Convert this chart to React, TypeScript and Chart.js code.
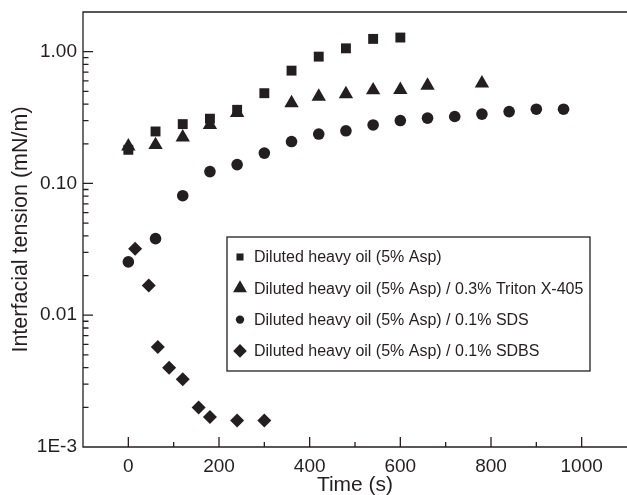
import React, { useEffect, useRef } from 'react';
import { Chart, registerables } from 'chart.js';

Chart.register(...registerables);

const INK = '#231f20';
const FONT = '"Liberation Sans", Arial, Helvetica, sans-serif';

// Series labels
const seriesLabels = [
  'Diluted heavy oil (5% Asp)',
  'Diluted heavy oil (5% Asp) / 0.3% Triton X-405',
  'Diluted heavy oil (5% Asp) / 0.1% SDS',
  'Diluted heavy oil (5% Asp) / 0.1% SDBS',
];

// Square series: Diluted heavy oil (5% Asp)
const sqTime = [0, 60, 120, 180, 240, 300, 360, 420, 480, 540, 600];
const sqIFT = [0.18, 0.248, 0.282, 0.31, 0.362, 0.484, 0.718, 0.917, 1.06, 1.25, 1.28];

// Triangle series: + 0.3% Triton X-405
const triTime = [0, 60, 120, 180, 240, 360, 420, 480, 540, 600, 660, 780];
const triIFT = [0.191, 0.196, 0.224, 0.278, 0.343, 0.407, 0.457, 0.476, 0.51, 0.513, 0.553, 0.576];

// Circle series: + 0.1% SDS
const cirTime = [0, 60, 120, 180, 240, 300, 360, 420, 480, 540, 600, 660, 720, 780, 840, 900, 960];
const cirIFT = [0.0254, 0.0381, 0.0807, 0.123, 0.139, 0.17, 0.208, 0.237, 0.251, 0.278, 0.3, 0.313, 0.322, 0.336, 0.351, 0.366, 0.366];

// Diamond series: + 0.1% SDBS
const diaTime = [15, 45, 65, 90, 120, 155, 180, 240, 300];
const diaIFT = [0.0319, 0.0168, 0.00573, 0.004, 0.00326, 0.00199, 0.00169, 0.00159, 0.00159];

// Axis ticks
const xMajorTicks = [0, 200, 400, 600, 800, 1000];
const xMinorTicks = [100, 300, 500, 700, 900];
const yDecades = [0.001, 0.01, 0.1, 1];
const yDecadeLabels = ['1E-3', '0.01', '0.10', '1.00'];
const yMultipliers = [1, 2, 3, 4, 5, 6, 7, 8, 9];

const X_MIN = -100;
const X_MAX = 1100;
const Y_MIN = 0.001;
const Y_MAX = 2;

const pointStyles = ['rect', 'triangle', 'circle', 'rectRot'];
const pointRadii = [7, 8.3, 5.8, 7];
const legendRadii = [5, 8, 4.2, 6.8];

function drawMarker(ctx: CanvasRenderingContext2D, style: string, x: number, y: number, r: number) {
  ctx.beginPath();
  if (style === 'rect') {
    const s = Math.SQRT1_2 * r;
    ctx.rect(x - s, y - s, 2 * s, 2 * s);
  } else if (style === 'triangle') {
    ctx.moveTo(x, y - r);
    ctx.lineTo(x + r * Math.sin((2 * Math.PI) / 3), y - r * Math.cos((2 * Math.PI) / 3));
    ctx.lineTo(x + r * Math.sin((4 * Math.PI) / 3), y - r * Math.cos((4 * Math.PI) / 3));
    ctx.closePath();
  } else if (style === 'circle') {
    ctx.arc(x, y, r, 0, Math.PI * 2);
  } else {
    ctx.moveTo(x, y - r);
    ctx.lineTo(x + r, y);
    ctx.lineTo(x, y + r);
    ctx.lineTo(x - r, y);
    ctx.closePath();
  }
  ctx.fill();
}

const decoPlugin = {
  id: 'deco',
  afterDraw(chart: any) {
    const { ctx, chartArea: ca, scales } = chart;
    const xs = scales.x;
    const ys = scales.y;
    ctx.save();
    ctx.strokeStyle = INK;
    ctx.lineWidth = 1.3;
    ctx.beginPath();
    ctx.moveTo(ca.right, ca.top);
    ctx.lineTo(ca.left, ca.top);
    ctx.lineTo(ca.left, ca.bottom);
    ctx.lineTo(ca.right, ca.bottom);
    xMajorTicks.forEach((v) => {
      const px = xs.getPixelForValue(v);
      ctx.moveTo(px, ca.bottom);
      ctx.lineTo(px, ca.bottom - 10);
    });
    xMinorTicks.forEach((v) => {
      const px = xs.getPixelForValue(v);
      ctx.moveTo(px, ca.bottom);
      ctx.lineTo(px, ca.bottom - 5);
    });
    yDecades.forEach((d) => {
      yMultipliers.forEach((m) => {
        const v = d * m;
        if (v < Y_MIN - 1e-12 || v > Y_MAX + 1e-12) return;
        const py = ys.getPixelForValue(v);
        ctx.moveTo(ca.left, py);
        ctx.lineTo(ca.left + (m === 1 ? 10 : 5.5), py);
      });
    });
    ctx.stroke();

    // Legend box
    const bx = ca.left + 144;
    const by = ca.top + 225;
    const bw = 363;
    const bh = 134;
    ctx.fillStyle = '#ffffff';
    ctx.fillRect(bx, by, bw, bh);
    ctx.lineWidth = 1.3;
    ctx.strokeRect(bx, by, bw, bh);
    ctx.fillStyle = INK;
    ctx.font = `16px ${FONT}`;
    ctx.textBaseline = 'middle';
    ctx.textAlign = 'left';
    chart.data.datasets.forEach((ds: any, i: number) => {
      const ry = by + 20 + i * 31.3;
      drawMarker(ctx, pointStyles[i], bx + 13, ry, legendRadii[i]);
      ctx.fillText(ds.label, bx + 27, ry + 1);
    });
    ctx.restore();
  },
};

function toPoints(xs: number[], ys: number[]) {
  return xs.map((x, i) => ({ x, y: ys[i] }));
}

export default function App() {
  const ref = useRef<HTMLCanvasElement | null>(null);

  useEffect(() => {
    if (!ref.current) return;
    const seriesData = [
      toPoints(sqTime, sqIFT),
      toPoints(triTime, triIFT),
      toPoints(cirTime, cirIFT),
      toPoints(diaTime, diaIFT),
    ];
    const chart = new Chart(ref.current, {
      type: 'scatter',
      data: {
        datasets: seriesData.map((d, i) => ({
          label: seriesLabels[i],
          data: d,
          pointStyle: pointStyles[i] as any,
          pointRadius: pointRadii[i],
          pointBackgroundColor: INK,
          pointBorderColor: INK,
          pointBorderWidth: 0,
          showLine: false,
        })),
      },
      options: {
        animation: false,
        responsive: false,
        devicePixelRatio: 1,
        layout: { autoPadding: false, padding: { left: 0, right: 0, top: 12, bottom: 0 } },
        plugins: {
          legend: { display: false },
          tooltip: { enabled: false },
        },
        scales: {
          x: {
            type: 'linear',
            min: X_MIN,
            max: X_MAX,
            grid: { display: false, drawTicks: false },
            border: { display: false },
            afterBuildTicks: (scale: any) => {
              scale.ticks = xMajorTicks.map((v) => ({ value: v }));
            },
            afterFit: (scale: any) => {
              scale.height = 48;
              scale.paddingLeft = 0;
              scale.paddingRight = 0;
              scale.paddingTop = 0;
              scale.paddingBottom = 0;
            },
            ticks: {
              autoSkip: false,
              maxRotation: 0,
              padding: 8,
              color: INK,
              font: { family: FONT, size: 19 },
              callback: (v: any) => String(v),
            },
            title: {
              display: true,
              text: 'Time (s)',
              color: INK,
              font: { family: FONT, size: 21 },
              padding: { top: 0, bottom: -3 },
            },
          },
          y: {
            type: 'logarithmic',
            min: Y_MIN,
            max: Y_MAX,
            grid: { display: false, drawTicks: false },
            border: { display: false },
            afterBuildTicks: (scale: any) => {
              scale.ticks = yDecades.map((v) => ({ value: v }));
            },
            afterFit: (scale: any) => {
              scale.width = 83;
              scale.paddingLeft = 0;
              scale.paddingRight = 0;
              scale.paddingTop = 0;
              scale.paddingBottom = 0;
            },
            ticks: {
              autoSkip: false,
              padding: 6,
              color: INK,
              font: { family: FONT, size: 19 },
              callback: (v: any) => {
                const idx = yDecades.findIndex((d) => Math.abs(d - Number(v)) < d * 1e-6);
                return idx >= 0 ? yDecadeLabels[idx] : '';
              },
            },
            title: {
              display: true,
              text: 'Interfacial tension (mN/m)',
              color: INK,
              font: { family: FONT, size: 21.5 },
              padding: { top: 8, bottom: 0 },
            },
          },
        },
      } as any,
      plugins: [decoPlugin],
    });
    return () => chart.destroy();
  }, []);

  return (
    <div style={{ position: 'absolute', left: 0, top: 0, width: 627, height: 495, background: '#fff' }}>
      <canvas ref={ref} width={627} height={495} style={{ display: 'block', width: 627, height: 495 }} />
    </div>
  );
}
